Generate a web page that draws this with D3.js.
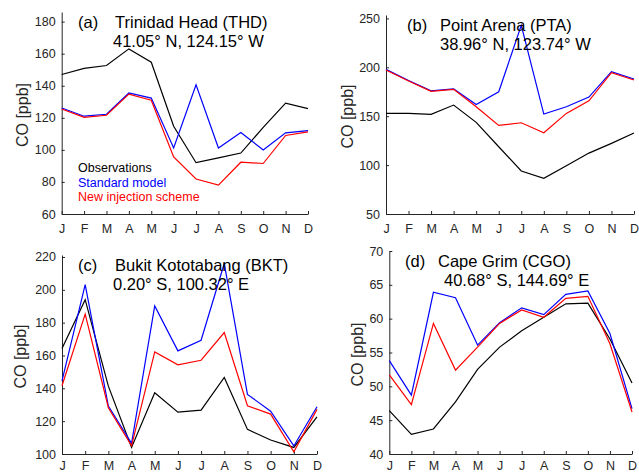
<!DOCTYPE html>
<html lang="en">
<head>
<meta charset="UTF-8">
<title>CO seasonal cycles</title>
<style>
    body { margin: 0; padding: 0; background: #fff; }
    svg { display: block; }
    text { font-family: Arial, "Liberation Sans", sans-serif; fill: #262626; }
    .tick text { font-size: 12.5px; }
    .ylabel { font-size: 16px; }
    .title { font-size: 16.5px; fill: #000; }
    .legend { font-size: 12.5px; }
</style>
</head>
<body>
<svg width="639" height="474"></svg>
<script src="https://d3js.org/d3.v7.min.js"></script>
<script>
    const months = ["J", "F", "M", "A", "M", "J", "J", "A", "S", "O", "N", "D"];

    // (a) Trinidad Head
    const thdObs = [147, 150.8, 152.6, 163, 154.7, 114.7, 92, 95, 98, 114, 129.2, 125.7];
    const thdStd = [126.1, 121, 122.2, 135.5, 132.3, 101.2, 140.6, 101.2, 110.8, 100, 110.6, 112];
    const thdNew = [125.5, 120.3, 121.6, 134.8, 131, 95.6, 81.8, 78, 92.3, 91.5, 109, 111.2];

    // (b) Point Arena
    const ptaObs = [153, 153, 151.9, 161.4, 143.7, 118.8, 94, 86.5, 99.4, 112.3, 122.2, 132.8];
    const ptaStd = [197.9, 186.6, 176, 178, 162, 175, 243, 152.2, 159.7, 169.6, 195.5, 188];
    const ptaNew = [197.2, 186, 175.4, 177.5, 159.7, 140.6, 143.3, 133.1, 152.9, 165.8, 194.5, 187];

    // (c) Bukit Kototabang
    const bktObs = [164.3, 194, 141.3, 104, 137.3, 125.5, 126.7, 146.6, 115, 108.5, 104, 122.6];
    const bktStd = [144.6, 203.2, 129.2, 106.5, 190.2, 162.8, 169.3, 216, 136.3, 126.1, 104.9, 128.8];
    const bktNew = [141.6, 185.2, 128.2, 105, 162.2, 154.3, 157.1, 174, 129.4, 124.3, 101.4, 127.2];

    // (d) Cape Grim
    const cgoObs = [46.4, 42.9, 43.7, 47.7, 52.5, 55.8, 58.2, 60.2, 62.2, 62.3, 57, 50.5];
    const cgoStd = [53.8, 48.7, 63.9, 63.1, 56.1, 59.4, 61.6, 60.6, 63.6, 64.1, 57.8, 46.7];
    const cgoNew = [51.7, 47.3, 59.3, 52.4, 55.8, 59.3, 61.3, 60.2, 63, 63.3, 56.3, 46.2];

    const seriesColors = ["#000000", "#0000ff", "#ff0000"];
    const legendLabels = ["Observations", "Standard model", "New injection scheme"];

    const panels = [
        { tag: "(a)", name: "Trinidad Head (THD)", coord: "41.05° N, 124.15° W",
          data: [thdObs, thdStd, thdNew], ylim: [60, 186], yticks: [60, 80, 100, 120, 140, 160, 180],
          x0: 61.7, x1: 308, y0: 214, y1: 12, pad: 10, labelX: 22, tagX: 78, nameX: 115, coordX: 113, legend: true },
        { tag: "(b)", name: "Point Arena (PTA)", coord: "38.96° N, 123.74° W",
          data: [ptaObs, ptaStd, ptaNew], ylim: [50, 253.5], yticks: [50, 100, 150, 200, 250],
          x0: 386, x1: 634, y0: 214, y1: 15, pad: 10, labelX: 347, tagX: 407, nameX: 440, coordX: 440 },
        { tag: "(c)", name: "Bukit Kototabang (BKT)", coord: "0.20° S, 100.32° E",
          data: [bktObs, bktStd, bktNew], ylim: [100, 221.2], yticks: [100, 120, 140, 160, 180, 200, 220],
          x0: 62, x1: 317, y0: 454, y1: 255, pad: 7, labelX: 20, tagX: 78, nameX: 115, coordX: 113 },
        { tag: "(d)", name: "Cape Grim (CGO)", coord: "40.68° S, 144.69° E",
          data: [cgoObs, cgoStd, cgoNew], ylim: [40, 70], yticks: [40, 45, 50, 55, 60, 65, 70],
          x0: 389.3, x1: 632, y0: 454, y1: 251, pad: 7, labelX: 357, tagX: 405, nameX: 438, coordX: 444 }
    ];

    const svg = d3.select("svg");

    panels.forEach(p => {
        const g = svg.append("g");
        const x = d3.scalePoint().domain(d3.range(12)).range([p.x0, p.x1]);
        const y = d3.scaleLinear().domain(p.ylim).range([p.y0, p.y1]);

        // x axis (ticks pointing inward)
        const xAxis = g.append("g")
            .attr("transform", `translate(0,${p.y0})`)
            .call(d3.axisBottom(x).tickSizeInner(-3).tickSizeOuter(0).tickPadding(p.pad)
                .tickFormat(i => months[i]));
        xAxis.selectAll("text").attr("dy", "0.71em");

        // y axis
        g.append("g")
            .attr("transform", `translate(${p.x0},0)`)
            .call(d3.axisLeft(y).tickValues(p.yticks).tickSizeInner(-3).tickSizeOuter(0).tickPadding(6));

        g.selectAll(".domain").attr("stroke", "#262626");
        g.selectAll(".tick line").attr("stroke", "#262626");

        g.append("text")
            .attr("class", "ylabel")
            .attr("transform", `translate(${p.labelX},${(p.y0 + p.y1) / 2 + 2}) rotate(-90)`)
            .attr("text-anchor", "middle")
            .attr("dy", "0.35em")
            .text("CO [ppb]");

        // lines
        const line = d3.line().x((d, i) => x(i)).y(d => y(d));
        p.data.forEach((s, k) => {
            g.append("path")
                .datum(s)
                .attr("fill", "none")
                .attr("stroke", seriesColors[k])
                .attr("stroke-width", 1.2)
                .attr("d", line);
        });

        // titles
        g.append("text").attr("class", "title").attr("x", p.tagX).attr("y", p.y1 + 16).text(p.tag);
        g.append("text").attr("class", "title").attr("x", p.nameX).attr("y", p.y1 + 16).text(p.name);
        g.append("text").attr("class", "title").attr("x", p.coordX).attr("y", p.y1 + 35).text(p.coord);

        if (p.legend) {
            legendLabels.forEach((t, k) => {
                g.append("text")
                    .attr("class", "legend")
                    .attr("x", 78)
                    .attr("y", 172 + k * 14.6)
                    .style("fill", seriesColors[k])
                    .text(t);
            });
        }
    });
</script>
</body>
</html>
